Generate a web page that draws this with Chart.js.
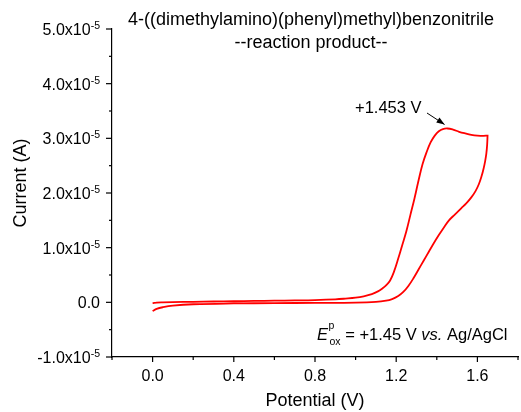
<!DOCTYPE html>
<html>
<head>
<meta charset="utf-8">
<script src="https://cdn.jsdelivr.net/npm/chart.js@4.4.1/dist/chart.umd.min.js"></script>
<style>
html,body{margin:0;padding:0;background:#fff;}
canvas{display:block;}
</style>
</head>
<body>
<canvas id="c" width="521" height="412"></canvas>
<script>
// Forward (anodic) sweep, 0 -> 1.65 V
const forwardPotential = [0.00,0.02,0.05,0.10,0.20,0.30,0.40,0.50,0.60,0.70,0.80,0.90,0.95,1.00,1.04,1.08,1.11,1.13,1.15,1.17,1.19,1.21,1.23,1.25,1.27,1.29,1.31,1.33,1.35,1.37,1.39,1.41,1.43,1.453,1.48,1.51,1.54,1.57,1.60,1.63,1.65];
const forwardCurrentMicroA = [-0.15,-0.05,0.0,0.05,0.10,0.15,0.20,0.25,0.30,0.35,0.42,0.55,0.68,0.85,1.1,1.5,2.0,2.5,3.1,4.0,5.7,8.0,10.5,13.0,16.0,19.0,22.3,25.3,27.5,29.3,30.5,31.3,31.7,31.8,31.6,31.2,30.9,30.65,30.5,30.45,30.5];
// Reverse sweep, 1.65 -> 0 V
const reversePotential = [1.65,1.648,1.644,1.638,1.63,1.62,1.607,1.59,1.57,1.545,1.52,1.49,1.46,1.435,1.41,1.385,1.36,1.335,1.31,1.285,1.26,1.235,1.21,1.18,1.15,1.10,1.00,0.80,0.60,0.40,0.20,0.10,0.05,0.02,0.00];
const reverseCurrentMicroA = [30.5,28.8,27.2,25.8,24.4,23.0,21.6,20.3,19.2,18.1,17.2,16.1,15.0,13.7,12.3,10.8,9.2,7.6,6.0,4.4,3.0,1.9,1.15,0.6,0.3,0.08,-0.05,-0.10,-0.15,-0.20,-0.35,-0.60,-0.90,-1.20,-1.60];

const xTickLabels = ["0.0","0.4","0.8","1.2","1.6"];
const xTickValues = [0.0,0.4,0.8,1.2,1.6];
const yTickMantissa = ["-1.0","0.0","1.0","2.0","3.0","4.0","5.0"];
const yTickValues = [-1e-5,0,1e-5,2e-5,3e-5,4e-5,5e-5];

const titleLines = ["4-((dimethylamino)(phenyl)methyl)benzonitrile","--reaction product--"];
const xTitle = "Potential (V)";
const yTitle = "Current (A)";
const peakLabel = "+1.453 V";
const peakPotential = 1.453;
const peakCurrent = 31.8e-6;

const FONT = "'Liberation Sans', Arial, Helvetica, sans-serif";

const points = [];
forwardPotential.forEach((v,i)=>points.push({x:v,y:forwardCurrentMicroA[i]*1e-6}));
reversePotential.forEach((v,i)=>points.push({x:v,y:reverseCurrentMicroA[i]*1e-6}));

const decor = {
  id:'decor',
  afterDraw(chart){
    const ctx = chart.ctx;
    const xs = chart.scales.x, ys = chart.scales.y;
    const ca = chart.chartArea;
    ctx.save();
    ctx.strokeStyle = '#000';
    ctx.fillStyle = '#000';
    ctx.lineWidth = 1.2;
    // x ticks
    for (let k=-1;k<=9;k++){
      const v = k*0.2;
      const px = xs.getPixelForValue(v);
      const major = (k%2===0);
      ctx.beginPath();
      ctx.moveTo(px, ca.bottom);
      ctx.lineTo(px, ca.bottom + (major?5:3));
      ctx.stroke();
    }
    // y ticks
    for (let k=-2;k<=10;k++){
      const v = k*5e-6;
      const py = ys.getPixelForValue(v);
      const major = (k%2===0);
      ctx.beginPath();
      ctx.moveTo(ca.left, py);
      ctx.lineTo(ca.left - (major?6:3), py);
      ctx.stroke();
    }
    // x tick labels
    ctx.font = "16px " + FONT;
    ctx.textAlign = 'center';
    ctx.textBaseline = 'alphabetic';
    xTickValues.forEach((v,i)=>{
      ctx.fillText(xTickLabels[i], xs.getPixelForValue(v), 381);
    });
    // y tick labels with superscript exponent
    yTickValues.forEach((v,i)=>{
      const py = ys.getPixelForValue(v);
      const rightX = 100;
      const base = py + 6;
      if (v === 0){
        ctx.font = "16px " + FONT;
        ctx.textAlign = 'right';
        ctx.fillText(yTickMantissa[i], rightX, base);
      } else {
        ctx.font = "10.5px " + FONT;
        ctx.textAlign = 'right';
        const ew = ctx.measureText("-5").width;
        ctx.fillText("-5", rightX, base - 6);
        ctx.font = "16px " + FONT;
        ctx.fillText(yTickMantissa[i] + "x10", rightX - ew, base);
      }
    });
    // titles
    ctx.font = "18px " + FONT;
    ctx.textAlign = 'center';
    ctx.fillText(titleLines[0], 311, 25);
    ctx.fillText(titleLines[1], 311, 48);
    ctx.fillText(xTitle, (ca.left+ca.right)/2, 406);
    ctx.save();
    ctx.translate(26, 183);
    ctx.rotate(-Math.PI/2);
    ctx.fillText(yTitle, 0, 0);
    ctx.restore();
    // peak label + arrow
    ctx.font = "16.5px " + FONT;
    ctx.textAlign = 'left';
    ctx.fillText(peakLabel, 355, 112.5);
    const tipX = xs.getPixelForValue(peakPotential) - 3;
    const tipY = ys.getPixelForValue(peakCurrent) - 4;
    const sx = 427, sy = 113;
    ctx.lineWidth = 1;
    ctx.beginPath(); ctx.moveTo(sx, sy); ctx.lineTo(tipX, tipY); ctx.stroke();
    const ang = Math.atan2(tipY - sy, tipX - sx);
    ctx.beginPath();
    ctx.moveTo(tipX, tipY);
    ctx.lineTo(tipX - 8*Math.cos(ang) + 3*Math.sin(ang), tipY - 8*Math.sin(ang) - 3*Math.cos(ang));
    ctx.lineTo(tipX - 8*Math.cos(ang) - 3*Math.sin(ang), tipY - 8*Math.sin(ang) + 3*Math.cos(ang));
    ctx.closePath(); ctx.fill();
    // E^p_ox annotation
    let x = 317, base = 339.5;
    ctx.font = "italic 16.5px " + FONT;
    ctx.fillText("E", x, base);
    x += ctx.measureText("E").width + 0.5;
    ctx.font = "10.5px " + FONT;
    ctx.fillText("p", x, base - 11);
    ctx.fillText("ox", x + 1, base + 5.5);
    x += ctx.measureText("ox").width + 1;
    ctx.font = "16.5px " + FONT;
    const t1 = " = +1.45 V ";
    ctx.fillText(t1, x, base);
    x += ctx.measureText(t1).width;
    ctx.font = "italic 16.5px " + FONT;
    ctx.fillText("vs.", x, base);
    x += ctx.measureText("vs.").width;
    ctx.font = "16.5px " + FONT;
    ctx.fillText(" Ag/AgCl", x, base);
    ctx.restore();
  }
};

new Chart(document.getElementById('c'), {
  type: 'scatter',
  data: {
    datasets: [{
      data: points,
      showLine: true,
      borderColor: '#ff0000',
      borderWidth: 1.8,
      pointRadius: 0,
      tension: 0.4,
      fill: false
    }]
  },
  options: {
    responsive: false,
    animation: false,
    devicePixelRatio: 1,
    layout: { padding: { top: 29, right: 3, left: 0, bottom: 0 } },
    plugins: { legend: { display: false }, tooltip: { enabled: false }, title: { display: false } },
    scales: {
      x: {
        type: 'linear', min: -0.2, max: 1.8,
        ticks: { display: false, stepSize: 0.2 },
        grid: { display: false, drawTicks: false },
        border: { display: true, color: '#000', width: 1.2 },
        afterFit(s){ s.height = 55; }
      },
      y: {
        type: 'linear', min: -1e-5, max: 5e-5,
        ticks: { display: false, stepSize: 5e-6 },
        grid: { display: false, drawTicks: false },
        border: { display: true, color: '#000', width: 1.2 },
        afterFit(s){ s.width = 112; }
      }
    }
  },
  plugins: [decor]
});
</script>
</body>
</html>
